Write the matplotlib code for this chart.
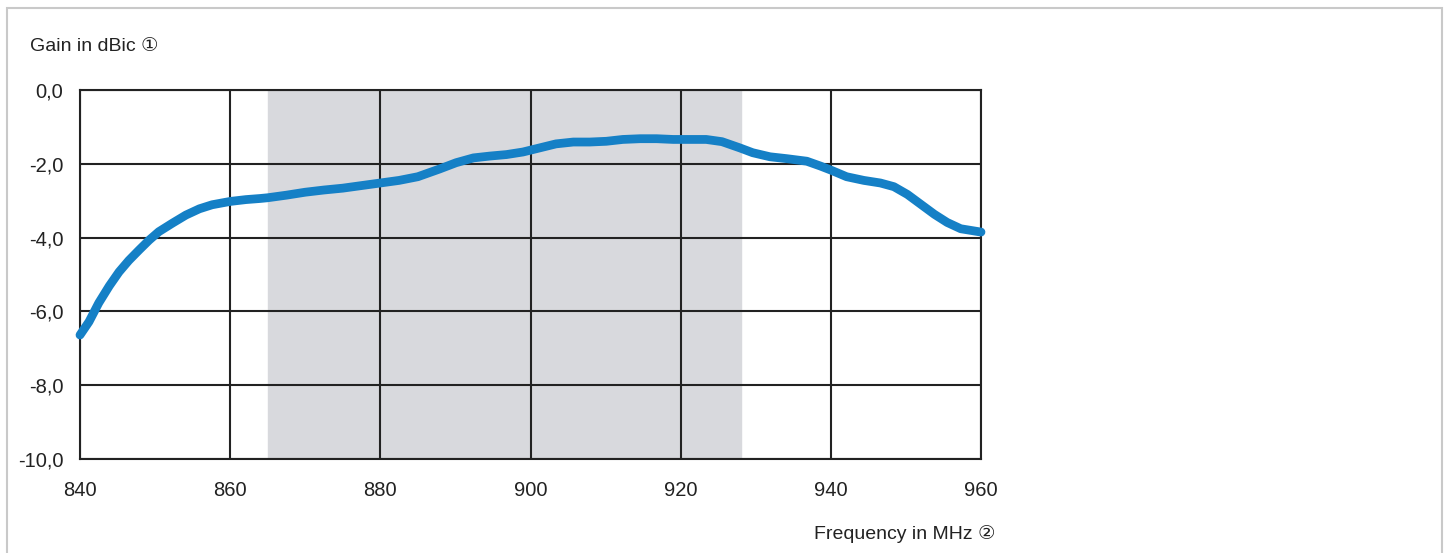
import matplotlib
matplotlib.use('Agg')
import matplotlib.pyplot as plt
from matplotlib.patches import Rectangle


# Gain curve
freq_mhz = [840, 841.2, 842.5, 843.9, 845.2, 846.5, 847.9, 849.2, 850.5, 852.3,
            854.1, 855.9, 857.6, 860, 862.1, 864, 865, 867.5, 870, 872.5,
            875, 877.5, 880, 882.5, 885, 887.9, 890.1, 892.4, 894.6, 896.8,
            899, 901.2, 903.4, 905.7, 907.9, 910.1, 912.3, 914.6, 916.8, 919,
            921.2, 923.4, 925.5, 927.9, 929.6, 931.9, 934.1, 936.8, 938.6, 940,
            942.1, 944.4, 946.6, 948.4, 950.2, 952, 953.8, 955.5, 957.3, 959.1,
            960]
gain_dbic = [-6.64, -6.28, -5.77, -5.31, -4.93, -4.62, -4.33, -4.07, -3.84, -3.61,
             -3.39, -3.22, -3.11, -3.02, -2.97, -2.94, -2.92, -2.85, -2.77, -2.71,
             -2.66, -2.59, -2.52, -2.45, -2.35, -2.14, -1.97, -1.84, -1.79, -1.75,
             -1.68, -1.57, -1.46, -1.41, -1.41, -1.39, -1.34, -1.32, -1.32, -1.34,
             -1.34, -1.34, -1.40, -1.57, -1.70, -1.81, -1.86, -1.93, -2.06, -2.17,
             -2.35, -2.45, -2.52, -2.62, -2.83, -3.10, -3.37, -3.59, -3.76, -3.82,
             -3.85]

band = [865, 928]
x_ticks = [840, 860, 880, 900, 920, 940, 960]
y_ticks = [0, -2, -4, -6, -8, -10]
y_labels = ['0,0', '-2,0', '-4,0', '-6,0', '-8,0', '-10,0']

plt.rcParams['font.family'] = ['Liberation Sans', 'DejaVu Sans']

fig = plt.figure(figsize=(14.48, 5.53), dpi=100)
ax = fig.add_axes([80 / 1448, 1 - 459 / 553, 901 / 1448, 369 / 553])

# light frame around the whole picture
fig.patches.append(Rectangle((7 / 1448, -0.05), 1435 / 1448, 1.05 - 8 / 553,
                             transform=fig.transFigure, fill=False,
                             edgecolor='#c9c9c9', linewidth=1.5))

ax.axvspan(band[0], band[1], color='#d8d9dd', zorder=0)
ax.plot(freq_mhz, gain_dbic, color='#1580c6', linewidth=6.3,
        solid_capstyle='round', solid_joinstyle='round', zorder=3, clip_on=False)

ax.set_xlim(840, 960)
ax.set_ylim(-10, 0)
ax.set_xticks(x_ticks)
ax.set_yticks(y_ticks)
ax.set_yticklabels(y_labels)
ax.tick_params(length=0, colors='#222222', labelsize=14.5)
ax.tick_params(axis='y', pad=12)
ax.tick_params(axis='x', pad=16)
ax.grid(True, color='#222222', linewidth=1.5, zorder=1)
ax.set_axisbelow(False)
for s in ax.spines.values():
    s.set_color('#222222')
    s.set_linewidth(1.5)

fig.text(30 / 1448, 1 - 47 / 553, 'Gain in dBic \u2460', fontsize=14,
         color='#222222', va='center', ha='left')
fig.text(996 / 1448, 1 - 534 / 553, 'Frequency in MHz \u2461', fontsize=14,
         color='#222222', va='center', ha='right')

fig.savefig('out.png', dpi=100)
